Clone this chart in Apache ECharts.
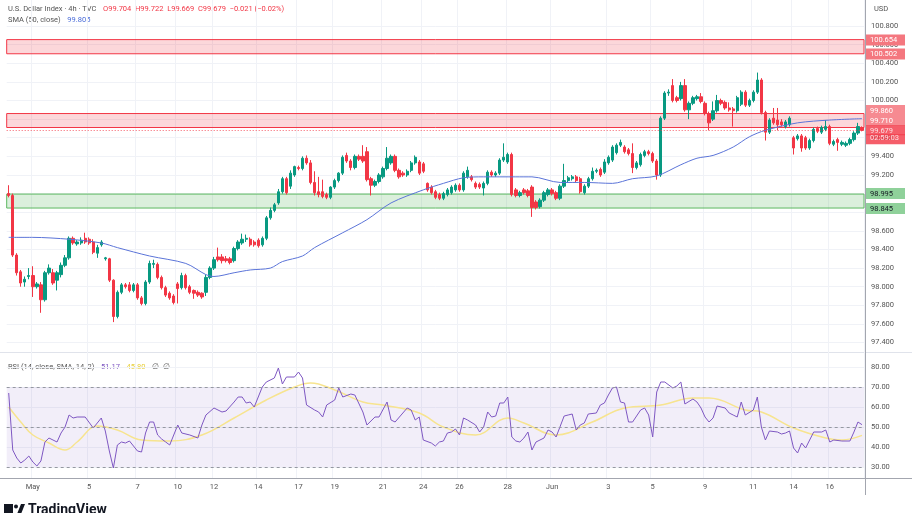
<!DOCTYPE html>
<html>
<head>
<meta charset="utf-8">
<script src="https://cdn.jsdelivr.net/npm/echarts@6/dist/echarts.min.js"></script>
<style>
  html, body { margin: 0; padding: 0; background: #fff; }
  #chart { width: 912px; height: 513px; }
</style>
</head>
<body>
<div id="chart"></div>
<script>
// 4h candles: [open, high, low, close]
const ohlc = [
  [99.00, 99.09, 98.96, 98.98], [98.98, 99.00, 98.32, 98.34], [98.34, 98.36, 98.12, 98.15], [98.16, 98.18, 98.00, 98.04],
  [98.05, 98.11, 98.00, 98.08], [98.11, 98.20, 98.08, 98.12], [98.12, 98.22, 97.89, 98.00], [98.00, 98.05, 97.98, 98.03],
  [98.02, 98.05, 97.72, 97.86], [97.86, 98.17, 97.84, 98.15], [98.15, 98.24, 98.13, 98.20], [98.15, 98.19, 98.02, 98.04],
  [98.07, 98.17, 97.96, 98.15], [98.13, 98.26, 98.10, 98.23], [98.23, 98.34, 98.21, 98.31], [98.31, 98.54, 98.29, 98.52],
  [98.52, 98.54, 98.45, 98.47], [98.46, 98.50, 98.44, 98.48], [98.47, 98.53, 98.45, 98.50], [98.52, 98.58, 98.46, 98.48],
  [98.51, 98.53, 98.45, 98.47], [98.48, 98.51, 98.35, 98.37], [98.36, 98.45, 98.31, 98.42], [98.45, 98.50, 98.43, 98.48],
  [98.30, 98.32, 98.28, 98.31], [98.30, 98.31, 98.05, 98.07], [98.07, 98.08, 97.62, 97.68], [97.68, 97.96, 97.66, 97.94],
  [97.94, 98.04, 97.92, 98.02], [98.02, 98.04, 97.98, 98.00], [98.02, 98.05, 97.94, 97.96], [97.96, 98.04, 97.94, 98.02],
  [98.02, 98.04, 97.86, 97.88], [97.88, 97.90, 97.80, 97.82], [97.82, 98.07, 97.80, 98.05], [98.05, 98.28, 98.03, 98.25],
  [98.24, 98.29, 98.20, 98.25], [98.24, 98.26, 98.08, 98.10], [98.10, 98.12, 97.97, 97.99], [97.99, 98.01, 97.89, 97.91],
  [97.93, 97.95, 97.86, 97.88], [97.90, 97.92, 97.81, 97.83], [98.03, 98.05, 97.82, 97.98], [97.99, 98.15, 97.97, 98.12],
  [98.12, 98.14, 97.97, 97.99], [98.00, 98.02, 97.92, 97.94], [97.96, 97.97, 97.87, 97.93], [97.94, 97.96, 97.89, 97.91],
  [97.93, 97.94, 97.87, 97.89], [97.94, 98.13, 97.90, 98.10], [98.10, 98.22, 98.08, 98.20], [98.20, 98.32, 98.18, 98.29],
  [98.32, 98.42, 98.27, 98.29], [98.32, 98.35, 98.25, 98.28], [98.30, 98.33, 98.26, 98.28], [98.30, 98.32, 98.24, 98.26],
  [98.28, 98.43, 98.26, 98.41], [98.41, 98.50, 98.39, 98.48], [98.47, 98.57, 98.45, 98.51], [98.51, 98.56, 98.48, 98.52],
  [98.51, 98.53, 98.43, 98.45], [98.48, 98.50, 98.43, 98.45], [98.50, 98.52, 98.42, 98.44], [98.45, 98.54, 98.43, 98.52],
  [98.52, 98.76, 98.50, 98.74], [98.74, 98.85, 98.72, 98.82], [98.82, 98.90, 98.80, 98.88], [98.90, 99.05, 98.88, 99.02],
  [99.02, 99.18, 99.00, 99.16], [99.16, 99.18, 98.99, 99.01], [99.08, 99.25, 99.05, 99.22], [99.20, 99.30, 99.18, 99.29],
  [99.28, 99.30, 99.25, 99.27], [99.27, 99.40, 99.25, 99.38], [99.38, 99.41, 99.31, 99.33], [99.33, 99.36, 99.10, 99.12],
  [99.12, 99.24, 98.98, 99.01], [99.02, 99.18, 98.96, 98.99], [99.02, 99.15, 98.95, 98.97], [98.99, 99.01, 98.94, 98.96],
  [98.96, 99.08, 98.94, 99.07], [99.07, 99.16, 99.05, 99.14], [99.14, 99.23, 99.12, 99.22], [99.22, 99.41, 99.20, 99.39],
  [99.41, 99.44, 99.33, 99.35], [99.35, 99.37, 99.25, 99.28], [99.28, 99.42, 99.26, 99.40], [99.40, 99.42, 99.35, 99.37],
  [99.40, 99.52, 99.33, 99.35], [99.45, 99.50, 99.13, 99.15], [99.16, 99.18, 98.98, 99.09], [99.09, 99.15, 99.07, 99.13],
  [99.13, 99.22, 99.11, 99.20], [99.18, 99.29, 99.16, 99.27], [99.27, 99.50, 99.25, 99.38], [99.33, 99.42, 99.31, 99.40],
  [99.40, 99.42, 99.23, 99.25], [99.25, 99.27, 99.16, 99.18], [99.22, 99.24, 99.18, 99.20], [99.20, 99.26, 99.18, 99.24],
  [99.25, 99.35, 99.23, 99.33], [99.33, 99.41, 99.31, 99.39], [99.34, 99.36, 99.20, 99.22], [99.32, 99.34, 99.22, 99.24],
  [99.11, 99.12, 99.02, 99.04], [99.07, 99.09, 98.99, 99.01], [99.02, 99.04, 98.94, 98.96], [98.99, 99.01, 98.93, 98.95],
  [98.95, 99.02, 98.93, 99.00], [98.99, 99.06, 98.97, 99.04], [99.01, 99.09, 98.99, 99.07], [99.04, 99.11, 99.02, 99.09],
  [99.09, 99.11, 99.02, 99.04], [99.04, 99.24, 99.02, 99.22], [99.18, 99.29, 99.16, 99.25], [99.18, 99.20, 99.13, 99.15],
  [99.11, 99.13, 99.05, 99.07], [99.10, 99.12, 99.05, 99.07], [99.06, 99.13, 98.98, 99.11], [99.11, 99.25, 99.09, 99.23],
  [99.23, 99.25, 99.18, 99.20], [99.20, 99.24, 99.18, 99.22], [99.22, 99.38, 99.20, 99.36], [99.36, 99.54, 99.34, 99.39],
  [99.34, 99.44, 99.32, 99.42], [99.42, 99.44, 98.97, 98.99], [99.04, 99.06, 98.96, 98.98], [98.98, 99.03, 98.96, 99.01],
  [99.04, 99.06, 98.99, 99.01], [99.03, 99.05, 98.96, 98.98], [99.07, 99.09, 98.75, 98.85], [98.91, 98.93, 98.83, 98.85],
  [98.86, 98.95, 98.84, 98.93], [98.93, 99.03, 98.91, 99.01], [98.99, 99.06, 98.97, 99.04], [99.04, 99.06, 98.98, 99.00],
  [99.01, 99.03, 98.93, 98.95], [98.95, 99.10, 98.93, 99.08], [99.08, 99.32, 99.06, 99.14], [99.14, 99.19, 99.12, 99.17],
  [99.16, 99.20, 99.14, 99.18], [99.18, 99.20, 99.12, 99.14], [99.16, 99.18, 99.00, 99.02], [99.01, 99.10, 98.99, 99.08],
  [99.08, 99.18, 99.06, 99.16], [99.16, 99.28, 99.14, 99.24], [99.24, 99.27, 99.22, 99.25], [99.26, 99.28, 99.18, 99.20],
  [99.23, 99.37, 99.21, 99.34], [99.33, 99.41, 99.31, 99.39], [99.36, 99.52, 99.34, 99.50], [99.44, 99.54, 99.42, 99.52],
  [99.52, 99.58, 99.50, 99.55], [99.50, 99.52, 99.43, 99.45], [99.47, 99.49, 99.41, 99.43], [99.43, 99.54, 99.22, 99.28],
  [99.28, 99.35, 99.26, 99.33], [99.31, 99.44, 99.29, 99.42], [99.41, 99.47, 99.39, 99.45], [99.45, 99.47, 99.41, 99.43],
  [99.43, 99.45, 99.33, 99.35], [99.35, 99.37, 99.15, 99.20], [99.20, 99.83, 99.18, 99.81], [99.81, 100.10, 99.79, 100.08],
  [100.08, 100.12, 100.05, 100.09], [100.16, 100.23, 99.98, 100.00], [100.03, 100.05, 99.98, 100.00], [100.02, 100.20, 100.00, 100.16],
  [100.16, 100.23, 99.88, 99.90], [99.90, 99.99, 99.80, 99.97], [99.97, 100.05, 99.95, 100.03], [100.02, 100.06, 100.00, 100.04],
  [100.04, 100.08, 99.97, 99.99], [99.97, 99.99, 99.84, 99.86], [99.86, 99.88, 99.68, 99.76], [99.80, 99.99, 99.78, 99.89],
  [99.89, 100.06, 99.87, 100.00], [100.00, 100.02, 99.95, 99.97], [99.98, 100.00, 99.90, 99.92], [99.92, 99.98, 99.88, 99.90],
  [99.91, 99.93, 99.72, 99.89], [99.89, 100.05, 99.87, 100.03], [99.96, 100.11, 99.94, 100.09], [100.09, 100.11, 99.93, 99.95],
  [99.95, 100.02, 99.93, 100.00], [100.00, 100.11, 99.98, 100.09], [100.09, 100.30, 100.07, 100.22], [100.22, 100.24, 99.85, 99.87],
  [99.87, 99.89, 99.57, 99.66], [99.66, 99.81, 99.64, 99.79], [99.81, 99.92, 99.74, 99.76], [99.79, 99.92, 99.68, 99.74],
  [99.77, 99.80, 99.72, 99.74], [99.72, 99.79, 99.70, 99.77], [99.74, 99.83, 99.72, 99.81], [99.60, 99.62, 99.42, 99.49],
  [99.59, 99.64, 99.57, 99.62], [99.62, 99.64, 99.45, 99.49], [99.60, 99.62, 99.47, 99.49], [99.49, 99.59, 99.47, 99.57],
  [99.57, 99.71, 99.55, 99.69], [99.70, 99.72, 99.65, 99.67], [99.66, 99.73, 99.64, 99.71], [99.69, 99.79, 99.67, 99.72],
  [99.72, 99.74, 99.52, 99.54], [99.53, 99.58, 99.51, 99.56], [99.58, 99.60, 99.46, 99.55], [99.53, 99.57, 99.51, 99.55],
  [99.52, 99.56, 99.50, 99.54], [99.54, 99.60, 99.52, 99.58], [99.58, 99.67, 99.56, 99.65], [99.65, 99.76, 99.63, 99.72],
  [99.704, 99.722, 99.669, 99.679]
];

// SMA(50) read at sample bars
const smaIdx = [0, 6, 15, 23, 27, 35, 44, 49, 51, 56, 60, 65, 68, 73, 76, 83, 89, 95, 103, 108, 113, 118, 126, 130, 137, 143, 150, 155, 161, 167, 171, 175, 180, 184, 188, 196, 204, 212];
const smaVal = [98.53, 98.53, 98.51, 98.47, 98.42, 98.33, 98.25, 98.13, 98.11, 98.15, 98.18, 98.20, 98.27, 98.33, 98.42, 98.58, 98.72, 98.90, 99.04, 99.11, 99.17, 99.18, 99.18, 99.18, 99.12, 99.12, 99.11, 99.16, 99.19, 99.31, 99.38, 99.41, 99.50, 99.61, 99.68, 99.76, 99.79, 99.805];

// RSI(14)
const rsiIdx = [0,1,2,3,4,5,6,7,8,9,10,11,12,13,14,15,16,17,19,21,23,24,25,26,27,28,29,30,31,32,33,34,35,36,37,38,39,40,42,43,45,47,48,49,51,53,54,56,57,58,59,60,61,63,64,66,67,68,69,71,72,73,74,76,77,78,79,81,82,83,85,86,88,89,91,92,94,95,96,99,100,101,102,103,105,106,107,108,109,110,111,112,113,114,116,117,118,119,120,121,122,123,124,125,126,127,128,129,130,131,133,134,135,136,138,139,140,141,142,143,144,146,147,148,149,150,151,152,153,154,155,157,158,159,160,161,162,163,165,166,167,168,170,171,172,173,174,175,176,178,179,180,181,182,183,185,186,187,188,189,191,192,193,194,195,196,197,198,200,202,203,204,205,207,209,210,211,212];
const rsiVal = [67,38.5,34.5,32,33.5,35.5,32.5,30.5,33,42.5,44.5,43.5,42.5,47,50,56,54.5,55,55,49.5,54.5,48,38,29.5,41,42.5,42,43,40.5,38,37.5,47,52.5,52.5,46,44,42.5,41,51,47,46,44.5,51,56,59.5,57.5,58,62.5,65,65,62,62.5,60,70,72.5,74.5,79.5,71.5,75,75,77.5,74.5,61,58.5,57.5,55,61,63.5,69.5,65,66.5,66,57.5,51,55,55,62.5,53.5,52.5,59.5,58.5,53.5,55,43.5,42,40.5,42.5,43,47,47.5,49,46,54.5,53.5,51,47.5,50,57.5,55,55.5,62,62,65,45,43,42.5,44.5,47.5,38.5,42.5,44.5,48.5,47.5,45,55.5,56,56.5,48.5,51,52,56.5,57,61,62,66,69.5,70,62.5,62,52.5,52.5,58.5,59.5,56,45,67.5,72.5,72.5,69.5,70.5,72.5,61.5,64,62.5,59.5,55,52.5,54.5,60.5,59.5,57,56,55,62.5,56,58.5,65,50,43.5,48,47.5,46.5,47,48,39.5,37,42,39.5,47.5,47.5,48.5,42.5,43.5,43,43,47.5,52.5,51.17];

// RSI-based SMA(14)
const rsiSmaIdx = [0, 3, 6, 10, 14, 17, 22, 27, 33, 40, 48, 56, 64, 71, 75, 81, 88, 93, 102, 108, 116, 124, 128, 136, 145, 153, 162, 170, 174, 183, 187, 195, 203, 207, 212];
const rsiSmaVal = [60, 52.5, 46, 42, 38.5, 42.5, 50.5, 48.5, 43.5, 43, 46, 54.5, 63.5, 70, 72, 68.5, 62.5, 61, 57, 50, 46, 54.5, 52, 46, 52.5, 59.5, 61, 64.5, 64.5, 58.5, 57.5, 49.5, 44.5, 43.5, 45.8];

// time axis labels
const tickIdx = [6, 20, 32, 42, 51, 62, 72, 81, 93, 103, 112, 124, 135, 149, 160, 173, 185, 195, 204];
const tickText = ['May', '5', '7', '10', '12', '14', '17', '19', '21', '24', '26', '28', 'Jun', '3', '5', '9', '11', '14', '16'];

// zones
const redZones = [[100.502, 100.654], [99.710, 99.860]];
const greenZones = [[98.845, 98.995]];
const lastPrice = 99.679;
const countdown = '02:59:03';

const N = ohlc.length;
const categories = ohlc.map((_, i) => String(i));
const candleData = ohlc.map(r => [r[0], r[3], r[2], r[1]]);

function sparse(idx, val) {
  const a = new Array(N).fill(null);
  idx.forEach((k, j) => { a[k] = val[j]; });
  return a;
}

const GRID_L = 6.7, GRID_R = 48;
const FONT = 'Roboto, "Noto Sans", sans-serif';
const tickShown = (index) => tickIdx.indexOf(index) >= 0;

function badgeStyle(bg, fg, pad) {
  return { color: fg, backgroundColor: bg, padding: pad, width: 31, fontSize: 7.5, lineHeight: 9, fontFamily: FONT };
}

// price badge on the right scale; shift > 0 moves it down, < 0 up
function badge(value, text, bg, fg, shift) {
  const s = shift || 0;
  return {
    yAxis: value,
    lineStyle: { color: 'rgba(0,0,0,0)', width: 0 },
    label: {
      show: true, position: 'end', distance: 2,
      formatter: '{a|' + text + '}',
      padding: s > 0 ? [2 * s, 0, 0, 0] : [0, 0, -2 * s, 0],
      rich: { a: badgeStyle(bg, fg, [2, 4, 1, 4]) }
    }
  };
}

const chart = echarts.init(document.getElementById('chart'));

const option = {
  animation: false,
  textStyle: { fontFamily: FONT },
  grid: [
    { left: GRID_L, right: GRID_R, top: 7.4, height: 353.8 },
    { left: GRID_L, right: GRID_R, top: 347, height: 140 },
    { left: GRID_L, right: GRID_R, top: 0, height: 478 }
  ],
  xAxis: [
    { type: 'category', gridIndex: 0, data: categories, show: false },
    { type: 'category', gridIndex: 1, data: categories, show: false },
    {
      type: 'category', gridIndex: 2, data: categories, position: 'bottom',
      axisLine: { show: false }, axisTick: { show: false },
      axisLabel: {
        interval: (index) => tickShown(index),
        formatter: (v) => tickText[tickIdx.indexOf(Number(v))] || '',
        color: '#555', fontSize: 7.5, margin: 5
      },
      splitLine: { show: true, interval: (index) => tickShown(index), lineStyle: { color: '#f0f2f7', width: 1 } }
    }
  ],
  yAxis: [
    {
      type: 'value', gridIndex: 0, position: 'right', min: 97.2, max: 101.0, interval: 0.2,
      axisLine: { show: false }, axisTick: { show: false },
      axisLabel: {
        formatter: (v) => v.toFixed(3), color: '#555', fontSize: 7.5, margin: 7,
        showMinLabel: false, showMaxLabel: false
      },
      splitLine: { lineStyle: { color: '#f0f2f7' }, showMinLine: false, showMaxLine: false }
    },
    {
      type: 'value', gridIndex: 1, position: 'right', min: 20, max: 90, interval: 10,
      axisLine: { show: false }, axisTick: { show: false },
      axisLabel: {
        formatter: (v) => v.toFixed(2), color: '#555', fontSize: 7.5, margin: 7,
        showMinLabel: false, showMaxLabel: false
      },
      splitLine: { lineStyle: { color: '#f0f2f7' }, showMinLine: false, showMaxLine: false }
    },
    { type: 'value', gridIndex: 2, min: 0, max: 1, show: false }
  ],
  series: [
    {
      name: 'DXY', type: 'candlestick', xAxisIndex: 0, yAxisIndex: 0,
      data: candleData, barWidth: '70%',
      itemStyle: {
        color: '#089981', color0: '#f23645',
        borderColor: '#089981', borderColor0: '#f23645', borderWidth: 1
      },
      markArea: {
        silent: true,
        data: redZones.map(z => [
          { yAxis: z[0], itemStyle: { color: 'rgba(242,54,69,0.2)', borderColor: '#f23645', borderWidth: 1 } },
          { yAxis: z[1] }
        ]).concat(greenZones.map(z => [
          { yAxis: z[0], itemStyle: { color: 'rgba(76,175,80,0.2)', borderColor: '#5cb860', borderWidth: 1 } },
          { yAxis: z[1] }
        ]))
      },
      markLine: {
        silent: true, symbol: ['none', 'none'], z: 10,
        data: [
          badge(redZones[0][1], '100.654', '#f4777f', '#fff'),
          badge(redZones[0][0], '100.502', '#f4777f', '#fff'),
          badge(redZones[1][1], '99.860', '#f68a91', '#fff', -3),
          badge(redZones[1][0], '99.710', '#f68a91', '#fff', -7),
          {
            yAxis: lastPrice,
            lineStyle: { color: '#f23645', type: [1, 2], width: 1, opacity: 0.8 },
            label: {
              show: true, position: 'end', distance: 2,
              formatter: '{a|' + lastPrice.toFixed(3) + '}\n{b|' + countdown + '}',
              padding: [9, 0, 0, 0],
              rich: {
                a: badgeStyle('#f23645', '#fff', [2, 4, 0, 4]),
                b: badgeStyle('#f23645', '#fff', [0, 4, 2, 4])
              }
            }
          },
          badge(greenZones[0][1], '98.995', '#8fd19a', '#131722'),
          badge(greenZones[0][0], '98.845', '#8fd19a', '#131722')
        ]
      }
    },
    {
      name: 'SMA', type: 'line', xAxisIndex: 0, yAxisIndex: 0,
      data: sparse(smaIdx, smaVal), connectNulls: true, smooth: 0.3,
      showSymbol: false, lineStyle: { color: '#5b74d8', width: 1 }
    },
    {
      name: 'RSI', type: 'line', xAxisIndex: 1, yAxisIndex: 1,
      data: sparse(rsiIdx, rsiVal), connectNulls: true,
      showSymbol: false, lineStyle: { color: '#7e57c2', width: 1 }, z: 3,
      markArea: {
        silent: true,
        data: [[{ yAxis: 30, itemStyle: { color: 'rgba(126,87,194,0.1)' } }, { yAxis: 70 }]]
      },
      markLine: {
        silent: true, symbol: ['none', 'none'], label: { show: false },
        lineStyle: { color: '#9598a1', type: [3, 3], width: 1 },
        data: [{ yAxis: 70 }, { yAxis: 50 }, { yAxis: 30 }]
      }
    },
    {
      name: 'RSI SMA', type: 'line', xAxisIndex: 1, yAxisIndex: 1,
      data: sparse(rsiSmaIdx, rsiSmaVal), connectNulls: true, smooth: 0.4,
      showSymbol: false, lineStyle: { color: '#f7e48f', width: 1.5 }, z: 2
    }
  ],
  graphic: [
    { type: 'line', shape: { x1: 0, y1: 352.5, x2: 912, y2: 352.5 }, style: { stroke: '#e0e3eb', lineWidth: 1 }, silent: true },
    { type: 'line', shape: { x1: 0, y1: 478.5, x2: 912, y2: 478.5 }, style: { stroke: '#a3a6af', lineWidth: 1 }, silent: true },
    { type: 'line', shape: { x1: 865.5, y1: 0, x2: 865.5, y2: 495 }, style: { stroke: '#a3a6af', lineWidth: 1 }, silent: true },
    {
      type: 'text', left: 8, top: 3, silent: true,
      style: {
        text: '{g|U.S. Dollar Index · 4h · TVC}  {r|O99.704  H99.722  L99.669  C99.679  −0.021 (−0.02%)}',
        rich: {
          g: { fill: '#555', fontSize: 7.5, fontFamily: FONT },
          r: { fill: '#f23645', fontSize: 7.5, fontFamily: FONT }
        }
      }
    },
    {
      type: 'text', left: 8, top: 14, silent: true,
      style: {
        text: '{g|SMA (50, close)}  {b|99.805}',
        rich: {
          g: { fill: '#555', fontSize: 7.5, fontFamily: FONT },
          b: { fill: '#4a6cd9', fontSize: 7.5, fontFamily: FONT }
        }
      }
    },
    {
      type: 'text', left: 8, top: 361, silent: true,
      style: {
        text: '{g|RSI (14, close, SMA, 14, 2)}  {p|51.17}  {y|45.80}  {g|∅  ∅}',
        rich: {
          g: { fill: '#555', fontSize: 7.5, fontFamily: FONT },
          p: { fill: '#7e57c2', fontSize: 7.5, fontFamily: FONT },
          y: { fill: '#e8cf3a', fontSize: 7.5, fontFamily: FONT }
        }
      }
    },
    { type: 'text', left: 874, top: 5, silent: true, style: { text: 'USD', fill: '#555', fontSize: 7.5, fontFamily: FONT } },
    { type: 'rect', shape: { x: 4, y: 504, width: 9, height: 12 }, style: { fill: '#131722' }, silent: true },
    { type: 'circle', shape: { cx: 16, cy: 506.5, r: 2 }, style: { fill: '#131722' }, silent: true },
    { type: 'polygon', shape: { points: [[17, 514], [21, 504], [25, 504], [21, 514]] }, style: { fill: '#131722' }, silent: true },
    { type: 'text', left: 28, top: 503, silent: true, style: { text: 'TradingView', fill: '#131722', fontSize: 14, fontWeight: 'bold', fontFamily: FONT } }
  ]
};

chart.setOption(option);
</script>
</body>
</html>
